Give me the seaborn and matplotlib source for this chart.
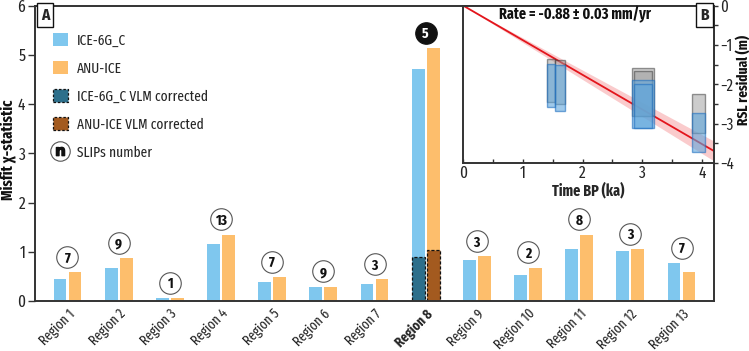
import matplotlib
matplotlib.use("Agg")
import matplotlib.pyplot as plt
import seaborn as sns
import numpy as np
import pandas as pd
from matplotlib.patches import Patch, Rectangle
from matplotlib.lines import Line2D

# ---------------- data ----------------
regions = [f"Region {i}" for i in range(1, 14)]
ice6g = [0.44, 0.68, 0.06, 1.16, 0.39, 0.29, 0.34, 4.71, 0.83, 0.53, 1.06, 1.02, 0.77]
anuice = [0.58, 0.87, 0.06, 1.35, 0.49, 0.29, 0.44, 5.14, 0.91, 0.68, 1.35, 1.06, 0.58]
ice6g_vlm = [np.nan] * 7 + [0.90] + [np.nan] * 5
anuice_vlm = [np.nan] * 7 + [1.04] + [np.nan] * 5
slips = [7, 9, 1, 13, 7, 9, 3, 5, 3, 2, 8, 3, 7]
highlight_region = "Region 8"

# inset: SLIPs of region 8
rate = -0.88          # m/ka
rate_err = 0.03
band_sigma = 2        # band drawn at 2 sigma
slip_age_min = [1.41, 1.545, 2.83, 2.86, 3.83]
slip_age_max = [1.545, 1.70, 3.20, 3.16, 4.05]
gray_top = [-1.37, -1.39, -1.58, -1.66, -2.24]
gray_bot = [-2.46, -2.50, -2.81, -2.81, -3.24]
blue_top = [-1.49, -1.52, -1.90, -2.00, -2.72]
blue_bot = [-2.59, -2.68, -3.11, -3.11, -3.73]
fit_x = [0.0, 4.2]

# ---------------- style ----------------
sns.set_theme(style="white")
plt.rcParams["font.family"] = ["Fira Sans Extra Condensed", "DejaVu Sans"]

C_BLUE = "#7fc7ee"
C_ORANGE = "#fdbe6c"
C_TEAL = "#2d6f8b"
C_BROWN = "#a35a1f"
C_AX = "#333333"

fig = plt.figure(figsize=(7.49, 3.51), dpi=100)
W, H = 749, 351
ax = fig.add_axes([35 / W, 1 - 301 / H, (714 - 35) / W, (301 - 5.5) / H])

df = pd.DataFrame({
    "region": regions * 2,
    "value": ice6g + anuice,
    "model": ["ICE-6G_C"] * 13 + ["ANU-ICE"] * 13,
})
sns.barplot(data=df, x="region", y="value", hue="model", order=regions,
            hue_order=["ICE-6G_C", "ANU-ICE"], palette=[C_BLUE, C_ORANGE],
            width=0.584, gap=0.14, legend=False, ax=ax, linewidth=0, saturation=1)

dfv = pd.DataFrame({
    "region": regions * 2,
    "value": ice6g_vlm + anuice_vlm,
    "model": ["ICE-6G_C VLM"] * 13 + ["ANU-ICE VLM"] * 13,
})
sns.barplot(data=dfv, x="region", y="value", hue="model", order=regions,
            hue_order=["ICE-6G_C VLM", "ANU-ICE VLM"], palette=[C_TEAL, C_BROWN],
            width=0.584, gap=0.14, legend=False, ax=ax, saturation=1,
            edgecolor="#111111", linewidth=0.9, linestyle=(0, (2.5, 1.5)))

# SLIP number circles
for i, (n, a, b) in enumerate(zip(slips, ice6g, anuice)):
    yc = max(a, b) + 0.31
    hl = regions[i] == highlight_region
    ax.plot(i, yc, marker="o", ms=15.5, mfc="#111111" if hl else "white",
            mec="#111111" if hl else "#555555", mew=0.8, zorder=5)
    ax.text(i, yc, str(n), ha="center", va="center_baseline", fontsize=10.5, fontweight="bold",
            color="white" if hl else "#111111", zorder=6)

ax.set_xlim(-0.635, 12.635)
ax.set_ylim(0, 6)
ax.set_yticks(range(0, 7))
ax.set_xlabel("")
ax.set_ylabel("")
fig.text(8 / W, 1 - 150 / H, "Misfit χ-statistic", rotation=90, ha="center", va="center",
         fontsize=11.5, fontweight="bold", color="#111111")
ax.tick_params(axis="y", direction="out", length=5, width=1, color=C_AX, labelsize=12, pad=2, left=True)
ax.tick_params(axis="x", length=0, labelsize=10, pad=4)
for lab in ax.get_xticklabels():
    lab.set_rotation(45)
    lab.set_ha("right")
    lab.set_rotation_mode("anchor")
    if lab.get_text() == highlight_region:
        lab.set_fontweight("bold")
for s in ax.spines.values():
    s.set_color(C_AX)
    s.set_linewidth(1.4)

# panel label A
fig.text(45 / W, 1 - 15 / H, "A", ha="center", va="center", fontsize=12, fontweight="bold",
         bbox=dict(boxstyle="square,pad=0.25", fc="white", ec="#111111", lw=1))

# legend
handles = [
    Patch(fc=C_BLUE, ec="none"),
    Patch(fc=C_ORANGE, ec="none"),
    Patch(fc=C_TEAL, ec="#111111", ls=(0, (2, 1.5)), lw=0.9),
    Patch(fc=C_BROWN, ec="#111111", ls=(0, (2, 1.5)), lw=0.9),
    (Line2D([], [], ls="none", marker="o", ms=14, mfc="white", mec="#555555", mew=0.8),
     Line2D([], [], ls="none", marker=r"$\mathbf{n}$", ms=6, color="#111111")),
]
labels = ["ICE-6G_C", "ANU-ICE", "ICE-6G_C VLM corrected", "ANU-ICE VLM corrected", "SLIPs number"]
ax.legend(handles, labels, loc="upper left", bbox_to_anchor=(53 / W, 1 - 33 / H),
          bbox_transform=fig.transFigure, frameon=False, fontsize=10.5,
          handlelength=1.0, handleheight=1.0, handletextpad=0.65, labelspacing=0.93,
          borderpad=0, borderaxespad=0)

# ---------------- inset ----------------
axi = fig.add_axes([463 / W, 1 - 163 / H, (714 - 463) / W, (163 - 5.5) / H])
axi.set_facecolor("white")
fx = np.array(fit_x)
half = band_sigma * rate_err * fx
axi.fill_between(fx, rate * fx - half, rate * fx + half, color="#f7a9ab", alpha=0.6, lw=0, zorder=1)
sns.lineplot(x=fx, y=rate * fx, color="#e3151c", lw=1.3, ax=axi, zorder=2)
for a0, a1, gt, gb, bt, bb in zip(slip_age_min, slip_age_max, gray_top, gray_bot, blue_top, blue_bot):
    axi.add_patch(Rectangle((a0, gb), a1 - a0, gt - gb, fc="#9a9a9a", ec="#333333", lw=1.0, alpha=0.5, zorder=3))
    axi.add_patch(Rectangle((a0, bb), a1 - a0, bt - bb, fc="#5fa6dc", ec="#1f6fc0", lw=1.0, alpha=0.6, zorder=4))
axi.set_xlim(0, 4.2)
axi.set_ylim(-4, 0)
axi.set_xticks(range(0, 5))
axi.set_xticks(np.arange(0.5, 4.2, 0.5), minor=True)
axi.set_yticks(range(-4, 1))
axi.set_yticks(np.arange(-3.5, 0, 0.5), minor=True)
axi.yaxis.tick_right()
axi.tick_params(axis="x", which="both", direction="in", length=3, width=1, color=C_AX, labelsize=12, pad=2, bottom=True)
axi.tick_params(axis="y", which="both", direction="out", length=3, width=1, color=C_AX, labelsize=11.5, pad=1.5, right=True, left=False)
axi.set_xlabel("Time BP (ka)", fontsize=11, fontweight="bold", labelpad=0)
axi.set_ylabel("")
fig.text(743 / W, 1 - 80 / H, "RSL residual (m)", rotation=90, ha="center", va="center",
         fontsize=10.5, fontweight="bold", color="#111111")
for s in axi.spines.values():
    s.set_color(C_AX)
    s.set_linewidth(1.4)
axi.text(0.446, 0.94, f"Rate = {rate:.2f} ± {rate_err:.2f} mm/yr", transform=axi.transAxes,
         ha="center", va="center", fontsize=11, fontweight="bold", color="#111111")
fig.text(704.5 / W, 1 - 15 / H, "B", ha="center", va="center", fontsize=12, fontweight="bold",
         bbox=dict(boxstyle="square,pad=0.25", fc="white", ec="#111111", lw=1))

fig.savefig("out.png", dpi=100)
